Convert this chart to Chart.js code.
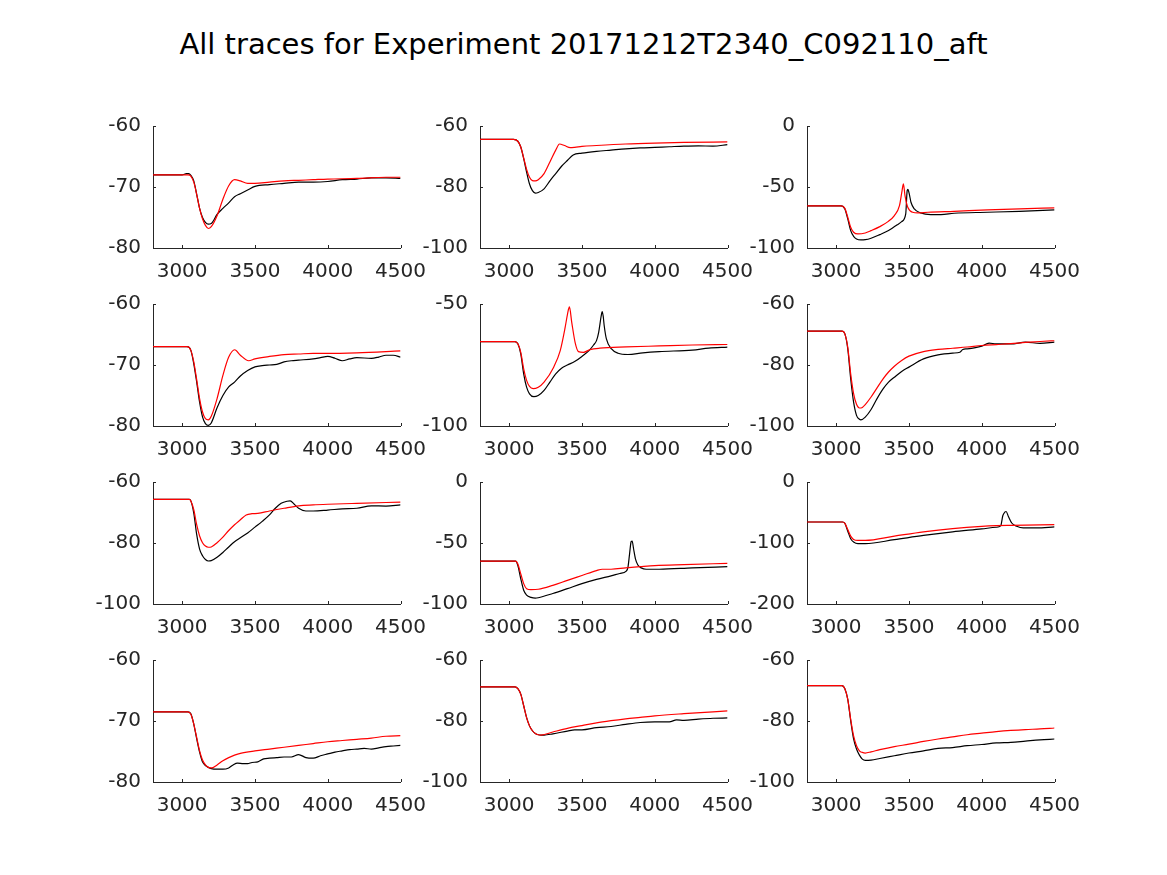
<!DOCTYPE html>
<html lang="en">
<head>
  <meta charset="UTF-8">
  <title>All traces</title>
  <script src="https://cdn.jsdelivr.net/npm/chart.js@4.4.1/dist/chart.umd.min.js"></script>
  <style>
    body { margin: 0; background: #fff; }
    #page { position: relative; width: 1167px; height: 875px; background: #fff; overflow: hidden; }
    #title {
      position: absolute; left: 0; width: 1167px; top: 26px;
      text-align: center; font-family: "DejaVu Sans"; font-size: 29px; color: #000;
      line-height: 36px;
    }
    canvas { position: absolute; }
  </style>
</head>
<body>
<div id="page">
  <div id="title">All traces for Experiment 20171212T2340_C092110_aft</div>
</div>

<script>
  // axis settings
  const xMin = 2800, xMax = 4500;
  const xTicks = [3000, 3500, 4000, 4500];
  const yMin = [-80, -100, -100, -80, -100, -100, -100, -100, -200, -80, -100, -100];
  const yMax = [-60, -60, 0, -60, -50, -60, -60, 0, 0, -60, -60, -60];
  const yTicks = [
    [-80, -70, -60], [-100, -80, -60], [-100, -50, 0],
    [-80, -70, -60], [-100, -50], [-100, -80, -60],
    [-100, -80, -60], [-100, -50, 0], [-200, -100, 0],
    [-80, -70, -60], [-100, -80, -60], [-100, -80, -60]
  ];

  // traces: k = black, r = red ; t = time, v = value
  const k1t = [2800,3000,3030,3045,3060,3080,3100,3120,3140,3160,3180,3200,3240,3280,3320,3360,3400,3450,3500,3600,3700,3800,3900,4000,4100,4200,4300,4400,4500];
  const k1v = [-68,-68,-67.8,-67.8,-68.1,-69.0,-71.2,-73.5,-75.0,-75.8,-76.1,-76.0,-74.5,-73.5,-72.6,-71.6,-71.1,-70.5,-69.9,-69.6,-69.4,-69.2,-69.2,-69.1,-68.8,-68.7,-68.5,-68.5,-68.6];
  const r1t = [2800,3040,3060,3080,3100,3120,3140,3160,3180,3200,3240,3280,3320,3360,3400,3450,3500,3600,3700,3800,3900,4000,4200,4400,4500];
  const r1v = [-68,-68,-68.2,-69.2,-71.2,-73.5,-75.2,-76.3,-76.8,-76.5,-74.7,-72.0,-69.8,-68.8,-69.0,-69.4,-69.4,-69.2,-69.0,-68.9,-68.8,-68.7,-68.6,-68.4,-68.4];

  const k2t = [2800,3030,3060,3080,3100,3120,3140,3160,3180,3200,3240,3280,3320,3360,3400,3440,3500,3600,3700,3800,3900,4000,4100,4200,4300,4400,4500];
  const k2v = [-64.4,-64.4,-65.0,-66.9,-70.7,-75.1,-79.0,-81.2,-82.0,-81.8,-80.6,-78.0,-75.6,-73.2,-71.3,-69.5,-68.9,-68.3,-67.9,-67.5,-67.2,-67.0,-66.8,-66.6,-66.5,-66.6,-66.1];
  const r2t = [2800,3030,3060,3080,3100,3120,3140,3160,3180,3200,3240,3280,3320,3346,3380,3420,3450,3500,3600,3800,4000,4200,4500];
  const r2v = [-64.4,-64.4,-65.0,-66.9,-70.5,-74.2,-76.8,-77.9,-78.0,-77.6,-75.6,-71.8,-67.9,-65.9,-66.4,-67.1,-67.0,-66.7,-66.4,-65.9,-65.6,-65.4,-65.2];

  const k3t = [2800,3035,3060,3080,3100,3120,3140,3170,3200,3240,3300,3360,3420,3450,3478,3488,3493,3503,3514,3537,3580,3650,3720,3810,4040,4260,4500];
  const k3v = [-65.5,-65.5,-68,-76.2,-85.8,-90.4,-92.6,-93.4,-93.2,-92.0,-89.0,-85.6,-81.0,-78.4,-72.0,-53.0,-52.0,-56.0,-62.5,-68.0,-71.2,-72.6,-72.6,-71.5,-70.7,-69.9,-68.8];
  const r3t = [2800,3035,3060,3080,3100,3120,3150,3200,3240,3300,3356,3400,3435,3453,3462,3473,3492,3526,3560,3630,3810,4040,4260,4500];
  const r3v = [-65.5,-65.5,-67.5,-74.8,-83,-87.1,-88.5,-87.7,-85.8,-82.5,-78.4,-73.4,-65.2,-52.9,-47.4,-57,-66.6,-70.7,-71.2,-70.7,-69.9,-68.8,-67.9,-67.1];

  const k4t = [2800,3035,3060,3080,3100,3120,3140,3160,3180,3200,3240,3280,3320,3360,3400,3450,3500,3550,3600,3650,3700,3750,3800,3900,3950,4000,4050,4100,4150,4200,4300,4350,4400,4450,4500];
  const k4v = [-67,-67,-67.6,-69.8,-72.8,-76.1,-78.5,-79.6,-79.9,-79.5,-77.0,-75.0,-73.6,-72.8,-71.8,-70.9,-70.3,-70.1,-70.0,-69.9,-69.5,-69.3,-69.2,-69.0,-68.8,-68.6,-68.9,-69.3,-69.0,-68.8,-68.9,-68.7,-68.4,-68.4,-68.7];
  const r4t = [2800,3035,3060,3080,3100,3120,3140,3160,3180,3200,3240,3280,3320,3361,3400,3457,3500,3600,3700,3800,3900,4000,4200,4500];
  const r4v = [-67,-67,-67.6,-69.5,-72.4,-75.5,-77.7,-78.8,-79.0,-78.4,-75.5,-71.7,-68.7,-67.5,-68.4,-69.3,-69.0,-68.6,-68.3,-68.2,-68.1,-68.1,-68.0,-67.7];

  const k5t = [2800,3040,3060,3080,3100,3120,3140,3170,3200,3240,3280,3320,3360,3400,3450,3500,3550,3580,3600,3615,3632,3639,3646,3653,3668,3703,3748,3816,3918,4031,4258,4371,4500];
  const k5v = [-65.4,-65.4,-66.3,-70.4,-78.6,-84.1,-86.8,-88.0,-87.5,-85.4,-82.0,-78.6,-76.3,-75.0,-73.6,-71.5,-69.0,-66.8,-65.0,-61.6,-55,-53.1,-55,-58.9,-64.3,-68.4,-70.2,-70.7,-70.0,-69.5,-68.9,-68.1,-67.7];
  const r5t = [2800,3040,3060,3080,3100,3120,3140,3165,3200,3240,3306,3351,3385,3401,3414,3430,3453,3476,3510,3555,3623,3804,4031,4258,4500];
  const r5v = [-65.4,-65.4,-66.3,-69.8,-76.6,-81.3,-83.8,-84.7,-84.1,-82.0,-75.9,-69.1,-59.5,-54.1,-51.2,-57.5,-65.7,-69.5,-69.8,-68.7,-68.1,-67.6,-67.2,-66.8,-66.6];

  const k6t = [2800,3040,3060,3080,3100,3120,3140,3160,3170,3200,3240,3280,3320,3360,3400,3450,3500,3600,3700,3800,3850,3870,3900,4000,4050,4100,4200,4300,4400,4500];
  const k6v = [-68.9,-68.9,-69.8,-74.7,-84.5,-92.2,-96.5,-97.8,-98.0,-97.1,-94.6,-91.1,-88.0,-85.6,-84.0,-82.1,-80.7,-78.0,-76.7,-76.1,-75.8,-74.9,-74.7,-73.8,-72.8,-73.1,-73.1,-72.5,-72.9,-72.5];
  const r6t = [2800,3040,3060,3080,3100,3120,3140,3160,3180,3200,3240,3280,3320,3360,3400,3450,3500,3600,3700,3800,3900,4000,4100,4200,4300,4400,4500];
  const r6v = [-68.9,-68.9,-69.8,-74.2,-82.9,-89.4,-92.9,-94.1,-93.9,-93.0,-90.5,-87.6,-84.7,-82.3,-80.4,-78.5,-77.1,-75.6,-74.9,-74.5,-74.1,-73.6,-73.3,-73.0,-72.6,-72.3,-72.0];

  const k7t = [2800,3050,3060,3080,3100,3120,3140,3160,3180,3200,3240,3280,3320,3360,3400,3450,3500,3550,3600,3640,3680,3720,3742,3770,3800,3850,3900,4000,4100,4200,4300,4400,4500];
  const k7v = [-65.7,-65.7,-66.2,-70.2,-77.2,-82.0,-84.2,-85.4,-85.9,-85.8,-84.7,-83.1,-81.3,-79.6,-78.3,-76.7,-74.8,-72.9,-70.8,-68.6,-67.0,-66.3,-66.2,-67.3,-68.6,-69.5,-69.5,-69.2,-68.8,-68.6,-67.8,-67.9,-67.5];
  const r7t = [2800,3050,3060,3080,3100,3120,3140,3160,3180,3200,3240,3280,3320,3360,3400,3440,3480,3520,3600,3700,3800,3900,4000,4200,4500];
  const r7v = [-65.7,-65.7,-66.2,-69.1,-74.0,-77.7,-79.9,-81.0,-81.4,-81.3,-79.9,-78.1,-75.9,-74.0,-72.4,-70.8,-70.4,-70.3,-69.5,-68.6,-67.8,-67.5,-67.3,-67.0,-66.6];

  const k8t = [2800,3045,3060,3080,3100,3120,3150,3180,3200,3300,3400,3500,3600,3700,3760,3804,3816,3827,3838,3845,3854,3868,3884,3907,3941,4031,4258,4500];
  const k8v = [-64.8,-64.8,-68.5,-79.3,-88.7,-92.7,-94.6,-95.2,-94.9,-91.4,-87.4,-83.3,-79.8,-76.9,-75.0,-73.1,-69.9,-59.1,-48.9,-48.4,-54.3,-63.2,-68.0,-70.4,-71.5,-71.5,-70.4,-69.4];
  const r8t = [2800,3045,3060,3080,3100,3120,3150,3200,3300,3400,3500,3600,3640,3700,3800,3900,4000,4200,4500];
  const r8v = [-64.8,-64.8,-67.2,-75.3,-83.3,-87.4,-88.2,-87.9,-84.7,-80.6,-76.6,-72.6,-71.5,-71.5,-70.4,-69.4,-68.5,-67.7,-66.7];

  const k9t = [2800,3045,3060,3080,3100,3120,3150,3200,3400,3600,3800,4000,4100,4130,4145,4160,4167,4183,4206,4240,4285,4376,4500];
  const k9v = [-65.6,-65.6,-67.7,-80.6,-93,-98.4,-101.1,-101.1,-94.6,-87.6,-81.7,-76.9,-74.2,-72.0,-55.0,-49.0,-48.4,-56.5,-67.2,-72.6,-75.3,-75.3,-73.7];
  const r9t = [2800,3045,3060,3080,3100,3120,3150,3200,3400,3600,3800,4000,4100,4200,4500];
  const r9v = [-65.6,-65.6,-67.7,-78,-88.7,-94.1,-95.7,-95.7,-88.7,-81.7,-76.3,-72.6,-71.5,-71.0,-69.9];

  const k10t = [2800,3040,3060,3080,3100,3120,3140,3160,3180,3200,3240,3280,3320,3350,3380,3420,3450,3480,3520,3560,3600,3650,3700,3750,3800,3850,3900,3950,4000,4050,4100,4150,4200,4250,4300,4350,4400,4450,4500];
  const k10v = [-68.5,-68.5,-68.8,-70.5,-72.9,-75.1,-76.7,-77.3,-77.6,-77.8,-77.9,-77.9,-77.7,-77.2,-76.9,-77.0,-77.0,-76.8,-76.7,-76.2,-76.1,-76.0,-75.9,-75.9,-75.5,-76.0,-76.1,-75.7,-75.4,-75.1,-74.9,-74.7,-74.6,-74.5,-74.6,-74.4,-74.2,-74.1,-74.0];
  const r10t = [2800,3040,3060,3080,3100,3120,3140,3160,3180,3200,3240,3280,3320,3360,3400,3500,3600,3700,3800,3900,4000,4100,4200,4300,4400,4500];
  const r10v = [-68.5,-68.5,-68.9,-70.5,-72.7,-74.9,-76.4,-77.2,-77.6,-77.7,-77.2,-76.5,-76.0,-75.6,-75.3,-74.9,-74.6,-74.3,-74.0,-73.7,-73.4,-73.2,-73.0,-72.8,-72.5,-72.4];

  const k11t = [2800,3040,3060,3080,3100,3120,3140,3160,3180,3200,3220,3240,3300,3400,3450,3500,3600,3700,3800,3900,4000,4100,4150,4200,4300,4400,4500];
  const k11v = [-68.8,-68.8,-69.4,-71.2,-75.0,-78.9,-81.6,-83.2,-84.1,-84.5,-84.6,-84.6,-84.2,-83.3,-82.9,-82.9,-82.2,-81.8,-81.1,-80.5,-80.3,-80.3,-79.6,-79.8,-79.4,-79.1,-79.0];
  const r11t = [2800,3040,3060,3080,3100,3120,3140,3160,3180,3200,3220,3300,3400,3500,3600,3700,3800,3900,4000,4200,4500];
  const r11v = [-68.8,-68.8,-69.4,-71.2,-75.0,-78.9,-81.6,-83.2,-84.1,-84.5,-84.6,-83.6,-82.4,-81.5,-80.6,-79.9,-79.3,-78.8,-78.3,-77.6,-76.7];

  const k12t = [2800,3040,3060,3080,3100,3120,3140,3160,3180,3200,3240,3300,3400,3500,3600,3700,3800,3900,4000,4100,4200,4300,4400,4500];
  const k12v = [-68.4,-68.4,-69.4,-72.9,-79.9,-85.9,-89.2,-91.2,-92.5,-92.9,-92.8,-92.3,-91.4,-90.5,-89.8,-89.0,-88.7,-88.1,-87.7,-87.2,-87.0,-86.6,-86.2,-85.9];
  const r12t = [2800,3040,3060,3080,3100,3120,3140,3160,3180,3200,3240,3300,3400,3500,3600,3700,3800,3900,4000,4100,4200,4300,4400,4500];
  const r12v = [-68.4,-68.4,-69.4,-72.9,-79.4,-84.9,-88.1,-89.8,-90.3,-90.5,-90.1,-89.4,-88.4,-87.6,-86.7,-85.9,-85.2,-84.5,-84.0,-83.5,-83.1,-82.8,-82.6,-82.3];

  const black = [[k1t,k1v],[k2t,k2v],[k3t,k3v],[k4t,k4v],[k5t,k5v],[k6t,k6v],[k7t,k7v],[k8t,k8v],[k9t,k9v],[k10t,k10v],[k11t,k11v],[k12t,k12v]];
  const red = [[r1t,r1v],[r2t,r2v],[r3t,r3v],[r4t,r4v],[r5t,r5v],[r6t,r6v],[r7t,r7v],[r8t,r8v],[r9t,r9v],[r10t,r10v],[r11t,r11v],[r12t,r12v]];

  // plot box positions (px)
  const colLeft = [153, 480, 807];
  const rowTop = [126, 304, 482, 660];
  const boxW = 248, boxH = 122;
  const padL = 70, padT = 15, padR = 30, padB = 35;
  const axisColor = '#262626';

  function pts(t, v) {
    return t.map((x, i) => ({ x: x, y: v[i] }));
  }

  // small ticks pointing into the plot, like matlab
  const innerTicks = {
    id: 'innerTicks',
    afterDraw(chart) {
      const ctx = chart.ctx;
      const area = chart.chartArea;
      const sx = chart.scales.x, sy = chart.scales.y;
      ctx.save();
      ctx.strokeStyle = axisColor;
      ctx.lineWidth = 1;
      ctx.beginPath();
      sx.ticks.forEach(t => {
        const px = Math.round(sx.getPixelForValue(t.value)) + 0.5;
        ctx.moveTo(px, area.bottom);
        ctx.lineTo(px, area.bottom - 3);
      });
      sy.ticks.forEach(t => {
        const py = Math.round(sy.getPixelForValue(t.value)) + 0.5;
        ctx.moveTo(area.left, py);
        ctx.lineTo(area.left + 3, py);
      });
      ctx.stroke();
      ctx.restore();
    }
  };

  function makeConfig(i) {
    const yt = yTicks[i];
    return {
      type: 'line',
      data: {
        datasets: [
          {
            data: pts(red[i][0], red[i][1]),
            borderColor: '#ff0000',
            borderWidth: 1.2,
            pointRadius: 0,
            cubicInterpolationMode: 'monotone',
            fill: false
          },
          {
            data: pts(black[i][0], black[i][1]),
            borderColor: '#000000',
            borderWidth: 1.2,
            pointRadius: 0,
            cubicInterpolationMode: 'monotone',
            fill: false
          }
        ]
      },
      options: {
        responsive: false,
        maintainAspectRatio: false,
        animation: false,
        devicePixelRatio: 1,
        layout: { padding: { left: 0, top: padT, right: padR, bottom: 0 } },
        plugins: { legend: { display: false }, tooltip: { enabled: false } },
        scales: {
          x: {
            type: 'linear',
            min: xMin,
            max: xMax,
            afterBuildTicks: s => { s.ticks = xTicks.map(v => ({ value: v })); },
            afterFit: s => { s.height = padB; },
            grid: { display: false, drawTicks: false },
            border: { display: true, color: axisColor, width: 1 },
            ticks: {
              color: axisColor,
              font: { family: 'DejaVu Sans', size: 20 },
              padding: 12,
              maxRotation: 0,
              autoSkip: false,
              callback: v => String(v)
            }
          },
          y: {
            type: 'linear',
            min: yMin[i],
            max: yMax[i],
            afterBuildTicks: s => { s.ticks = yt.map(v => ({ value: v })); },
            afterFit: s => { s.width = padL; },
            grid: { display: false, drawTicks: false },
            border: { display: true, color: axisColor, width: 1 },
            ticks: {
              color: axisColor,
              font: { family: 'DejaVu Sans', size: 20 },
              padding: 12,
              autoSkip: false,
              callback: v => String(v)
            }
          }
        }
      },
      plugins: [innerTicks]
    };
  }

  const page = document.getElementById('page');

  for (let i = 0; i < 12; i++) {
    const row = Math.floor(i / 3), col = i % 3;
    const cv = document.createElement('canvas');
    let w = boxW + padL + padR;
    let h = boxH + padT + padB;
    cv.width = w;
    cv.height = h;
    page.appendChild(cv);

    // first pass: see where the plot box lands, then correct the canvas size
    let chart = new Chart(cv, makeConfig(i));
    const a = chart.chartArea;
    const dw = boxW - (a.right - a.left);
    const dh = boxH - (a.bottom - a.top);
    if (dw !== 0 || dh !== 0) {
      chart.destroy();
      w += dw;
      h += dh;
      cv.width = w;
      cv.height = h;
      cv.style.width = w + 'px';
      cv.style.height = h + 'px';
      chart = new Chart(cv, makeConfig(i));
    }
    const b = chart.chartArea;
    cv.style.left = (colLeft[col] - b.left) + 'px';
    cv.style.top = (rowTop[row] - b.top) + 'px';
  }
</script>
</body>
</html>
